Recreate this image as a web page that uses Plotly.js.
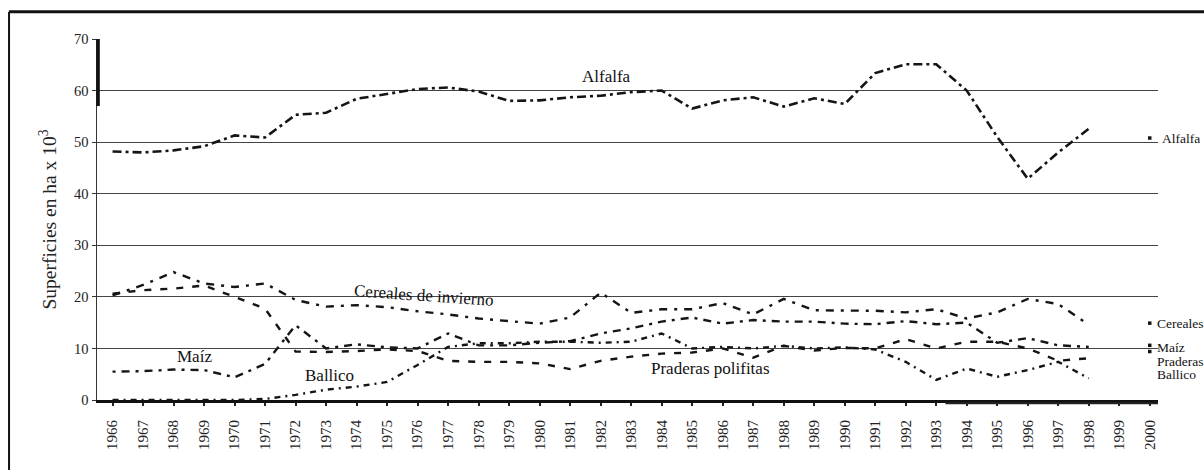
<!DOCTYPE html>
<html>
<head>
<meta charset="utf-8">
<script src="https://cdn.plot.ly/plotly-3.0.1.min.js"></script>
<style>
html,body{margin:0;padding:0;background:#fff;}
#chart{width:1204px;height:470px;}
</style>
</head>
<body>
<div id="chart"></div>
<script>
// Years 1966..2000 (1999 has no data)
const years = [1966,1967,1968,1969,1970,1971,1972,1973,1974,1975,1976,1977,1978,1979,1980,1981,1982,1983,1984,1985,1986,1987,1988,1989,1990,1991,1992,1993,1994,1995,1996,1997,1998,1999,2000];
const tickLabels = years.map(String);

const alfalfa = [48.2,48.0,48.4,49.2,51.3,50.9,55.3,55.7,58.4,59.3,60.3,60.6,59.8,58.0,58.1,58.7,59.0,59.7,60.0,56.5,58.1,58.7,56.9,58.5,57.4,63.4,65.1,65.1,60.0,51.0,42.9,48.0,52.6,null,50.8];
const cereales = [20.3,22.3,24.8,22.6,21.9,22.6,19.4,18.1,18.4,18.0,17.2,16.6,15.8,15.3,14.8,16.0,20.8,16.9,17.6,17.6,18.8,16.6,19.6,17.4,17.3,17.3,17.0,17.6,15.8,17.0,19.6,18.6,14.6,null,14.9];
const maiz = [5.5,5.6,5.9,5.8,4.4,7.0,14.5,10.0,10.8,10.2,10.0,12.9,10.6,10.6,11.1,11.4,12.9,13.9,15.2,16.0,14.8,15.5,15.2,15.2,14.8,14.7,15.3,14.7,15.0,11.1,12.0,10.6,10.3,null,10.6];
const praderas = [20.6,21.3,21.6,22.2,20.0,17.7,9.4,9.3,9.5,9.8,9.5,7.6,7.4,7.4,7.1,6.0,7.6,8.4,9.0,9.2,10.0,8.2,10.5,9.6,10.1,10.0,11.8,10.0,11.3,11.3,10.0,7.6,8.1,null,9.4];
const ballico = [0,0,0,0,0,0.2,1.0,2.0,2.6,3.5,6.8,10.3,11.0,11.0,11.3,11.3,11.1,11.3,12.9,10.0,10.3,10.0,10.5,10.0,10.2,9.8,7.4,3.9,6.1,4.5,5.8,7.4,4.2,null,null];

// right-hand end labels
const endLabels = ['Alfalfa', 'Cereales', 'Maíz', 'Praderas', 'Ballico'];
const endLabelValues = [50.8, 14.9, 10.2, 7.5, 4.9];

const serif = '"Liberation Serif", "DejaVu Serif", serif';
const ink = '#151515';

function lineTrace(name, vals, dash, width){
  return {x: years, y: vals, name: name, mode: 'lines', type: 'scatter',
    line: {color: ink, width: width, dash: dash}, connectgaps: false,
    hoverinfo: 'x+y+name'};
}
function lastPoint(name, vals){
  const i = vals.length - 1;
  return {x: [years[i]], y: [vals[i]], name: name + ' 2000', mode: 'markers', type: 'scatter',
    marker: {color: ink, size: 3.5, symbol: 'square'}};
}

const traces = [
  lineTrace('Alfalfa', alfalfa, '9px,4px,3px,4px', 2.6),
  lineTrace('Cereales de invierno', cereales, '8px,7px,3px,7px', 2.4),
  lineTrace('Maíz', maiz, '3px,6px,8px,6px', 2.4),
  lineTrace('Praderas polifitas', praderas, '7px,9px', 2.4),
  lineTrace('Ballico', ballico, '6px,5px,2px,5px', 2.4),
  lastPoint('Alfalfa', alfalfa),
  lastPoint('Cereales', cereales),
  lastPoint('Maíz', maiz),
  lastPoint('Praderas', praderas)
];

const inFont = {family: serif, size: 17, color: '#111'};
const sideFont = {family: serif, size: 13.5, color: '#111'};

const annotations = [
  {x: 1982.2, y: 62.8, xref: 'x', yref: 'y', text: 'Alfalfa', showarrow: false, font: inFont},
  {x: 1976.2, y: 20.2, xref: 'x', yref: 'y', text: 'Cereales de invierno', showarrow: false, font: inFont, textangle: 4},
  {x: 1968.67, y: 8.5, xref: 'x', yref: 'y', text: 'Maíz', showarrow: false, font: inFont},
  {x: 1973.1, y: 4.8, xref: 'x', yref: 'y', text: 'Ballico', showarrow: false, font: inFont},
  {x: 1985.6, y: 6.2, xref: 'x', yref: 'y', text: 'Praderas polifitas', showarrow: false, font: inFont}
];
endLabels.forEach((t, i) => {
  annotations.push({x: i === 0 ? 1.003 : 0.9985, y: endLabelValues[i], xref: 'paper', yref: 'y',
    text: t, showarrow: false, xanchor: 'left', yanchor: 'middle', borderpad: 0, font: sideFont});
});

const shapes = [
  // figure frame (left and top borders)
  {type: 'line', xref: 'paper', yref: 'paper', x0: -0.0829, x1: -0.0829, y0: 1.0757, y1: -0.3, line: {color: '#111', width: 2}},
  {type: 'line', xref: 'paper', yref: 'paper', x0: -0.0829, x1: 1.1, y0: 1.0757, y1: 1.0757, line: {color: '#111', width: 3}},
  // thick scan mark on the y axis top
  {type: 'line', xref: 'paper', yref: 'y', x0: 0.001, x1: 0.001, y0: 57, y1: 70, line: {color: '#111', width: 3.5}},
  // doubled baseline on the right part
  {type: 'line', xref: 'x', yref: 'paper', x0: 1993.3, x1: 2000.3, y0: -0.009, y1: -0.009, line: {color: '#222', width: 2}}
];

const layout = {
  width: 1204, height: 470,
  margin: {l: 97, r: 46, t: 39, b: 70, pad: 0},
  paper_bgcolor: '#fff', plot_bgcolor: '#fff',
  showlegend: false,
  font: {family: serif, color: '#222'},
  xaxis: {
    range: [1965.49, 2000.27], tickmode: 'array', tickvals: years, ticktext: tickLabels,
    tickangle: -90, tickfont: {family: serif, size: 15, color: '#222'},
    ticklabelstandoff: 8,
    showgrid: false, zeroline: false, showline: true, linecolor: '#111', linewidth: 3,
    ticks: 'outside', ticklen: 3, tickwidth: 2, tickcolor: '#222', automargin: false
  },
  yaxis: {
    range: [0, 70], tickmode: 'linear', tick0: 0, dtick: 10,
    tickfont: {family: serif, size: 14.5, color: '#222'},
    showgrid: true, gridcolor: '#444', gridwidth: 1, zeroline: false,
    showline: true, linecolor: '#333', linewidth: 1.5,
    ticks: 'outside', ticklen: 4, tickcolor: '#333', automargin: false,
    title: {text: 'Superficies en ha x 10<sup>3</sup>', font: {family: serif, size: 19.5, color: '#222'}, standoff: 12}
  },
  annotations: annotations,
  shapes: shapes
};

Plotly.newPlot('chart', traces, layout, {displayModeBar: false, staticPlot: true});
</script>
</body>
</html>
